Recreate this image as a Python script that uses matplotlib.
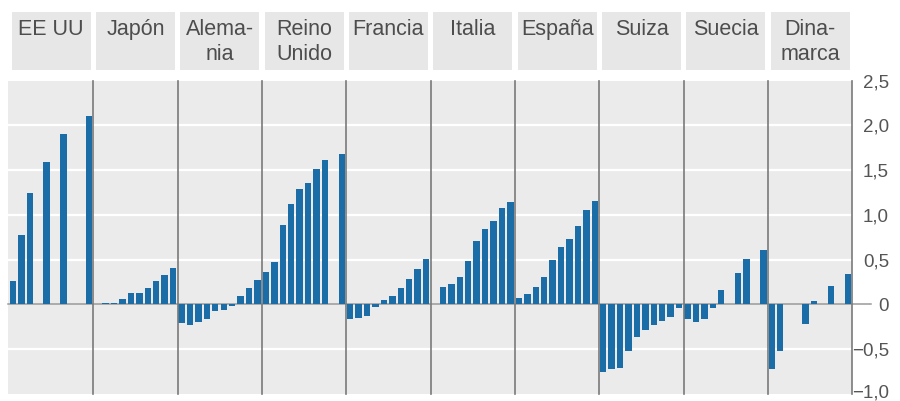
import matplotlib
matplotlib.use("Agg")
import matplotlib.pyplot as plt
from matplotlib.patches import Rectangle
from matplotlib.transforms import blended_transform_factory, ScaledTranslation

plt.rcParams['font.family'] = ['Liberation Sans', 'DejaVu Sans']

# ---- data ----
paises = ["EE UU", "Japón", "Alema-\nnia", "Reino\nUnido", "Francia",
          "Italia", "España", "Suiza", "Suecia", "Dina-\nmarca"]
ee_uu     = [0.26, 0.77, 1.25, None, 1.59, None, 1.91, None, None, 2.11]
japon     = [None, 0.01, 0.02, 0.06, 0.13, 0.13, 0.18, 0.26, 0.33, 0.41]
alemania  = [-0.21, -0.23, -0.20, -0.16, -0.08, -0.06, -0.02, 0.09, 0.18, 0.27]
reino     = [0.36, 0.47, 0.89, 1.12, 1.29, 1.36, 1.51, 1.61, None, 1.68]
francia   = [-0.16, -0.15, -0.13, -0.03, 0.05, 0.09, 0.18, 0.28, 0.40, 0.51]
italia    = [None, 0.19, 0.23, 0.31, 0.48, 0.71, 0.84, 0.93, 1.08, 1.14]
espana    = [0.07, 0.12, 0.19, 0.30, 0.50, 0.64, 0.73, 0.88, 1.05, 1.15]
suiza     = [-0.76, -0.72, -0.71, -0.52, -0.37, -0.29, -0.23, -0.19, -0.14, -0.04]
suecia    = [-0.16, -0.20, -0.16, -0.04, 0.16, None, 0.35, 0.51, None, 0.61]
dinamarca = [-0.72, -0.52, None, None, -0.22, 0.04, None, 0.21, None, 0.34]
series = [ee_uu, japon, alemania, reino, francia, italia, espana, suiza, suecia, dinamarca]

yticks = [-1.0, -0.5, 0, 0.5, 1.0, 1.5, 2.0, 2.5]
yticklabels = ["−1,0", "−0,5", "0", "0,5", "1,0", "1,5", "2,0", "2,5"]

# ---- figure ----
W, H = 900, 401
fig = plt.figure(figsize=(W / 100, H / 100), dpi=100)
left_px, right_px, top_px, bot_px = 7.5, 852.3, 80.8, 393.7
ax = fig.add_axes([left_px / W, 1 - bot_px / H, (right_px - left_px) / W, (bot_px - top_px) / H])
ax.set_facecolor('#ebebeb')
ax.set_xlim(-0.18, 100)
ax.set_ylim(-1.0, 2.5)

bar_color = '#1a6da6'
n = len(series[0])
for p, vals in enumerate(series):
    xs, hs = [], []
    for i, v in enumerate(vals):
        if v is None:
            continue
        xs.append(p * n + i + 0.08)
        hs.append(v)
    ax.bar(xs, hs, width=0.76, align='edge', color=bar_color, linewidth=0, zorder=3)

# grid
for g in [-0.5, 0.5, 1.0, 1.5, 2.0]:
    ax.axhline(g, color='white', lw=1.6, zorder=1)
ax.axhline(0, xmin=0, xmax=1.022, color='#9a9a9a', lw=1.1, zorder=2, clip_on=False)

# dividers
for p in range(1, len(series) + 1):
    ax.axvline(p * n, color='#7a7a7a', lw=1.2, zorder=4, clip_on=False)

for s in ax.spines.values():
    s.set_visible(False)

ax.set_xticks([])
ax.yaxis.tick_right()
ax.set_yticks(yticks)
ax.set_yticklabels(yticklabels)
ax.tick_params(axis='y', length=0, pad=26.5, labelsize=13.5, labelcolor='#555555')
for lab in ax.get_yticklabels():
    lab.set_horizontalalignment('right')
# nudge the bottom label so it stays inside the image
bt = ax.yaxis.get_major_ticks()[0]
bt.label2.set_transform(bt.label2.get_transform() + ScaledTranslation(0, 2.5 / 100, fig.dpi_scale_trans))

# headers
trans = blended_transform_factory(ax.transData, fig.transFigure)
hy0 = 1 - 70 / H
hy1 = 1 - 11.7 / H
for p, name in enumerate(paises):
    rect = Rectangle((p * n + 0.32, hy0), n - 0.64, hy1 - hy0, transform=trans,
                     facecolor='#e7e7e7', edgecolor='none', clip_on=False, zorder=0.5)
    fig.add_artist(rect)
    fig.text(p * n + n / 2, 1 - 19 / H, name, transform=trans, ha='center', va='top',
             fontsize=15.5, color='#4d4d4d', linespacing=1.22, zorder=2)

fig.savefig('out.png', dpi=100, facecolor='white')
